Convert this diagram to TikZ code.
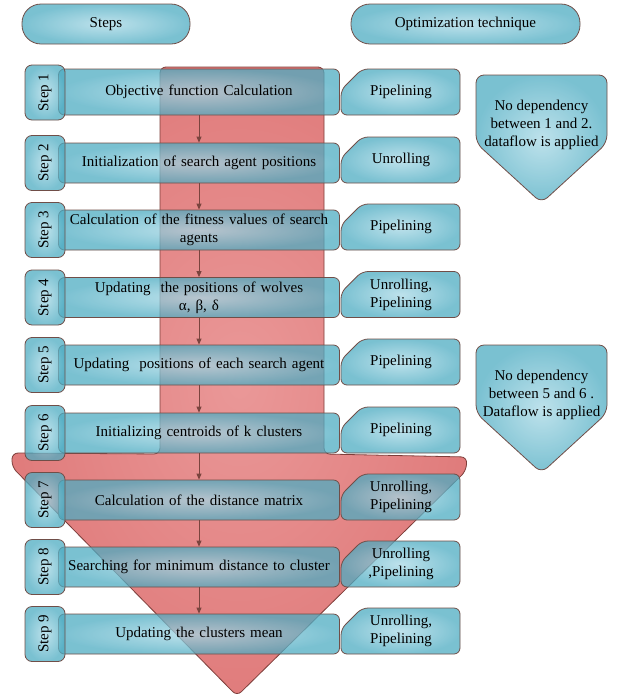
\documentclass[tikz,border=0pt]{standalone}
\usepackage{fontspec}
\setmainfont{Liberation Serif}
\usetikzlibrary{arrows.meta}

\definecolor{boxline}{RGB}{112,78,72}
\definecolor{blueedge}{RGB}{78,172,194}
\definecolor{bluecore}{RGB}{168,216,229}
\definecolor{redfill}{RGB}{224,124,124}
\definecolor{redcore}{RGB}{234,152,152}
\definecolor{redline}{RGB}{125,62,58}
\definecolor{flowline}{RGB}{122,68,62}

\tikzset{
  txt/.style={font=\fontsize{15}{18}\selectfont},
  bluefill/.style={inner color=bluecore, outer color=blueedge, fill opacity=0.75,
    text opacity=1, draw=boxline, line width=0.8pt},
  pill/.style={bluefill, txt, rounded corners=19pt, minimum height=40pt},
  stepbox/.style={bluefill, txt, rounded corners=6pt, minimum width=281pt,
    minimum height=40pt, align=center, text width=268pt, inner sep=2pt},
  steptab/.style={bluefill, txt, rounded corners=7pt, rotate=90,
    minimum width=55pt, minimum height=40pt, inner sep=0pt},
  techshape/.style={bluefill},
  techtext/.style={txt, align=center, inner sep=0pt},
  calloutshape/.style={bluefill, rounded corners=8pt},
  flow/.style={draw=flowline, line width=0.8pt, -{Triangle[length=6pt,width=5pt]}},
}

% optimisation box with a snipped top-left corner: #1 = top, #2 = bottom
\newcommand{\techpath}[2]{%
  \path[techshape, rounded corners=6pt] (362,#1) -- (460,#1) -- (460,#2) -- (341,#2) -- (341,#1+21) -- cycle;}

\begin{document}
\begin{tikzpicture}[x=1pt, y=-1pt]
\useasboundingbox (0,0) rectangle (618,694);

% big background flow arrow
\path[draw=redline, line width=0.8pt, rounded corners=6pt,
      inner color=redcore, outer color=redfill]
  (160,67) -- (324,67) -- (324,454) -- (467,457) -- (466,471) -- (237,696)
  -- (12,467) -- (12,453) -- (160,454) -- cycle;

% column headers
\node[pill, minimum width=168pt] (hsteps) at (106,24) {Steps};
\node[pill, minimum width=229pt] (htech) at (465.5,24) {Optimization technique};

% step descriptions
\node[stepbox, minimum height=46pt] (m1) at (199,92) {Objective function Calculation};
\node[stepbox] (m2) at (199,163) {Initialization of search agent positions};
\node[stepbox] (m3) at (199,230) {Calculation of the fitness values of search\\agents};
\node[stepbox] (m4) at (199,297.5) {Updating\ \ the positions of wolves\\α, β, δ};
\node[stepbox] (m5) at (199,365) {Updating\ \ positions of each search agent};
\node[stepbox] (m6) at (199,433) {Initializing centroids of k clusters};
\node[stepbox] (m7) at (199,500) {Calculation of the distance matrix};
\node[stepbox] (m8) at (199,567) {Searching for minimum distance to cluster};
\node[stepbox] (m9) at (199,634) {Updating the clusters mean};

% step tabs
\node[steptab] (s1) at (45,92.5) {Step 1};
\node[steptab] (s2) at (45,163) {Step 2};
\node[steptab] (s3) at (45,230) {Step 3};
\node[steptab] (s4) at (45,297.5) {Step 4};
\node[steptab] (s5) at (45,365) {Step 5};
\node[steptab] (s6) at (45,433) {Step 6};
\node[steptab] (s7) at (45,500) {Step 7};
\node[steptab] (s8) at (45,567) {Step 8};
\node[steptab] (s9) at (45,634) {Step 9};

% optimisation techniques
\techpath{69}{115}   \node[techtext] (o1) at (401,92) {Pipelining};
\techpath{137}{183}  \node[techtext] (o2) at (401,160) {Unrolling};
\techpath{204}{250}  \node[techtext] (o3) at (401,227) {Pipelining};
\techpath{271.5}{317.5} \node[techtext] (o4) at (401,294.5) {Unrolling,\\Pipelining};
\techpath{339}{385}  \node[techtext] (o5) at (401,362) {Pipelining};
\techpath{407}{453}  \node[techtext] (o6) at (401,430) {Pipelining};
\techpath{474}{520}  \node[techtext] (o7) at (401,497) {Unrolling,\\Pipelining};
\techpath{541}{587}  \node[techtext] (o8) at (401,564) {Unrolling\\,Pipelining};
\techpath{608}{654}  \node[techtext] (o9) at (401,631) {Unrolling,\\Pipelining};

% dataflow notes
\path[calloutshape] (476,75) -- (607,75) -- (607,143) -- (541.5,203) -- (476,143) -- cycle;
\node[techtext] (n1) at (541.5,125) {No dependency\\between 1 and 2.\\dataflow is applied};
\path[calloutshape] (476,345) -- (607,345) -- (607,413) -- (541.5,473) -- (476,413) -- cycle;
\node[techtext] (n2) at (541.5,395) {No dependency\\between 5 and 6 .\\Dataflow is applied};

% step order
\draw[flow] (m1.south) -- (m2.north);
\draw[flow] (m2.south) -- (m3.north);
\draw[flow] (m3.south) -- (m4.north);
\draw[flow] (m4.south) -- (m5.north);
\draw[flow] (m5.south) -- (m6.north);
\draw[flow] (m6.south) -- (m7.north);
\draw[flow] (m7.south) -- (m8.north);
\draw[flow] (m8.south) -- (m9.north);
\end{tikzpicture}
\end{document}
